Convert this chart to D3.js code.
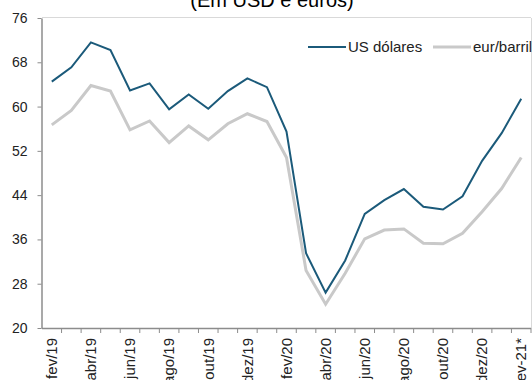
<!DOCTYPE html>
<html>
<head>
<meta charset="utf-8">
<script src="https://cdn.jsdelivr.net/npm/d3@7"></script>
<style>
  html, body { margin: 0; padding: 0; background: #fff; overflow: hidden; }
  svg { display: block; font-family: "Liberation Sans", Arial, sans-serif; }
</style>
</head>
<body>
<svg id="chart" width="532" height="380"></svg>
<script>
// Monthly Brent price, Feb/2019 – Feb/2021 (USD and EUR per barrel)
const months = [
  "fev/19","mar/19","abr/19","mai/19","jun/19","jul/19","ago/19","set/19","out/19","nov/19","dez/19","jan/20",
  "fev/20","mar/20","abr/20","mai/20","jun/20","jul/20","ago/20","set/20","out/20","nov/20","dez/20","jan/21",
  "fev-21*"
];
const usd = [64.5, 67.1, 71.6, 70.2, 62.9, 64.2, 59.5, 62.2, 59.6, 62.8, 65.1, 63.5,
             55.5, 33.5, 26.4, 32.2, 40.6, 43.1, 45.1, 41.9, 41.4, 43.8, 50.2, 55.2, 61.4];
const eur = [56.7, 59.3, 63.8, 62.8, 55.8, 57.4, 53.5, 56.5, 54.0, 56.9, 58.7, 57.3,
             50.8, 30.4, 24.3, 29.9, 36.1, 37.7, 37.9, 35.3, 35.2, 37.1, 41.0, 45.2, 50.8];
const yTicks = [20, 28, 36, 44, 52, 60, 68, 76];
const seriesNames = ["US dólares", "eur/barril"];
const seriesColors = ["#1b5a7a", "#c9c9c9"];

const svg = d3.select("#chart");
const plotLeft = 42, plotRight = 531, plotTop = 18, plotBottom = 328;

const x = d3.scaleBand().domain(months).range([plotLeft, plotRight]).paddingInner(0).paddingOuter(0);
const y = d3.scaleLinear().domain([20, 76]).range([plotBottom, plotTop]);

// title (partially above the viewport)
svg.append("text")
  .attr("x", 272).attr("y", 7)
  .attr("text-anchor", "middle")
  .attr("font-size", 20)
  .attr("fill", "#000")
  .text("(Em USD e euros)");

// plot frame: top and right borders
svg.append("line").attr("x1", plotLeft).attr("x2", plotRight).attr("y1", plotTop - 0.5).attr("y2", plotTop - 0.5)
  .attr("stroke", "#d9d9d9").attr("stroke-width", 1);
svg.append("line").attr("x1", plotRight + 0.5).attr("x2", plotRight + 0.5).attr("y1", plotTop).attr("y2", plotBottom)
  .attr("stroke", "#d9d9d9").attr("stroke-width", 1);

// y axis
const yAxis = d3.axisLeft(y).tickValues(yTicks).tickSize(4).tickSizeOuter(0).tickPadding(10);
const gy = svg.append("g").attr("transform", `translate(${plotLeft - 0.5},0)`).call(yAxis);
gy.select(".domain").attr("stroke", "#8c8c8c").attr("stroke-width", 1.5);
gy.selectAll(".tick line").attr("stroke", "#8c8c8c");
gy.selectAll(".tick text").attr("font-size", 14).attr("fill", "#222")
  .attr("font-family", "'Liberation Sans', Arial, sans-serif");

// x axis: ticks on category boundaries
const boundaries = d3.range(months.length + 1).map(i => plotLeft + i * x.step());
const gx = svg.append("g");
gx.append("line").attr("x1", plotLeft).attr("x2", plotRight).attr("y1", plotBottom + 0.5).attr("y2", plotBottom + 0.5)
  .attr("stroke", "#8c8c8c").attr("stroke-width", 1.5);
gx.selectAll("line.tk").data(boundaries.slice(1)).join("line").attr("class", "tk")
  .attr("x1", d => d).attr("x2", d => d)
  .attr("y1", plotBottom).attr("y2", plotBottom + 5)
  .attr("stroke", "#8c8c8c");
gx.selectAll("text").data(months.filter((m, i) => i % 2 === 0)).join("text")
  .attr("transform", d => `translate(${x(d) + x.bandwidth() / 2},${plotBottom + 10}) rotate(-90)`)
  .attr("text-anchor", "end")
  .attr("dy", "0.35em")
  .attr("font-size", 15)
  .attr("fill", "#222")
  .text(d => d);

// lines
const line = d3.line().x((d, i) => x(months[i]) + x.bandwidth() / 2).y(d => y(d));
svg.append("path").datum(eur).attr("d", line)
  .attr("fill", "none").attr("stroke", seriesColors[1]).attr("stroke-width", 3).attr("stroke-linejoin", "miter");
svg.append("path").datum(usd).attr("d", line)
  .attr("fill", "none").attr("stroke", seriesColors[0]).attr("stroke-width", 2).attr("stroke-linejoin", "miter");

// legend
const legend = svg.append("g").attr("transform", "translate(308,47)");
const lx = [0, 125];
seriesNames.forEach((name, i) => {
  legend.append("line").attr("x1", lx[i]).attr("x2", lx[i] + 38).attr("y1", 0).attr("y2", 0)
    .attr("stroke", seriesColors[i]).attr("stroke-width", i === 0 ? 2 : 3);
  legend.append("text").attr("x", lx[i] + 40).attr("y", 0).attr("dy", "0.35em")
    .attr("font-size", 15).attr("fill", "#222").text(name);
});
</script>
</body>
</html>
